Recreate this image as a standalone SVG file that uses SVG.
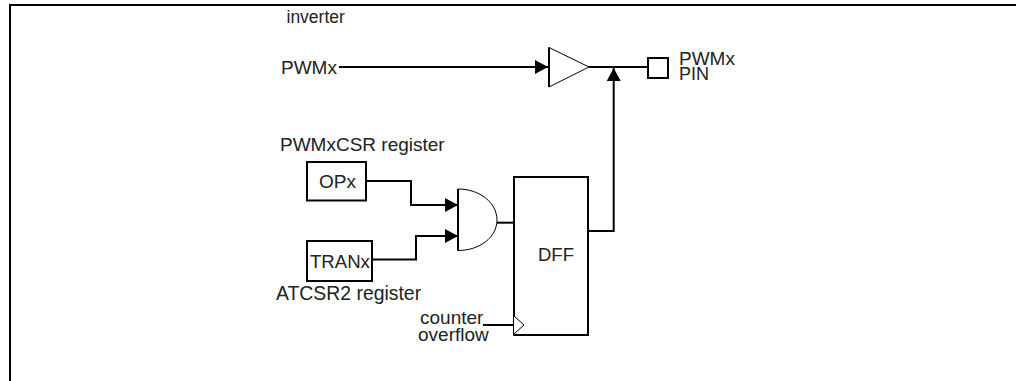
<svg xmlns="http://www.w3.org/2000/svg" width="1016" height="381" viewBox="0 0 1016 381">
<style>
text{font-family:"Liberation Sans",Arial,sans-serif;font-size:19px;fill:#222}
.w{fill:none;stroke:#000;stroke-width:2}
.b{fill:#fff;stroke:#000;stroke-width:2}
.t{fill:#fff;stroke:#000;stroke-width:1}
</style>
<defs>
<marker id="a" markerUnits="userSpaceOnUse" markerWidth="14" markerHeight="14" refX="13" refY="7" orient="auto"><path d="M0 0L13 7L0 14Z" fill="#000"/></marker>
</defs>
<rect width="1016" height="381" fill="#fff"/>
<path id="frame" d="M10 381V5H1016" fill="none" stroke="#000" stroke-width="2"/>
<g id="connectors">
<path class="w" d="M339 67H548" marker-end="url(#a)"/>
<path class="w" d="M589 67H648"/>
<path class="w" d="M586 231H613.7V68" marker-end="url(#a)"/>
<path class="w" d="M366 181H411V205H458" marker-end="url(#a)"/>
<path class="w" d="M372 259.5H416V236H458" marker-end="url(#a)"/>
<path class="w" d="M497 222.7H516"/>
<path class="w" d="M483 325H514"/>
</g>
<g id="inverter"><path class="t" d="M549 47.5L589 67L549 87Z"/><path class="w" d="M549 47.5V87"/><text x="286.5" y="23" style="font-size:17.5px">inverter</text></g>
<g id="pwmx-in"><text x="281" y="74">PWMx</text></g>
<g id="pin"><rect class="b" x="648" y="58" width="20" height="20"/><text x="679" y="64.5">PWMx</text><text x="679" y="80" style="font-size:18px">PIN</text></g>
<g id="opx"><text x="280" y="151">PWMxCSR register</text><rect class="b" x="307" y="162" width="59" height="38.5"/><text x="319" y="188">OPx</text></g>
<g id="tranx"><rect class="b" x="307" y="241" width="65" height="40"/><text x="310" y="268" style="font-size:18.6px">TRANx</text><text x="276" y="300" style="font-size:19.4px">ATCSR2 register</text></g>
<g id="and"><path class="t" d="M458 189C480 189 497 203 497 220C497 237 480 250.5 458 250.5Z"/><path class="w" d="M458 189V250.5"/></g>
<g id="dff"><rect class="b" x="514" y="177" width="74" height="158"/><path class="t" d="M514 316L524 325L514 334"/><text x="538" y="261" style="font-size:18.5px">DFF</text></g>
<g id="clock"><text x="420" y="324">counter</text><text x="418" y="341">overflow</text></g>
</svg>
